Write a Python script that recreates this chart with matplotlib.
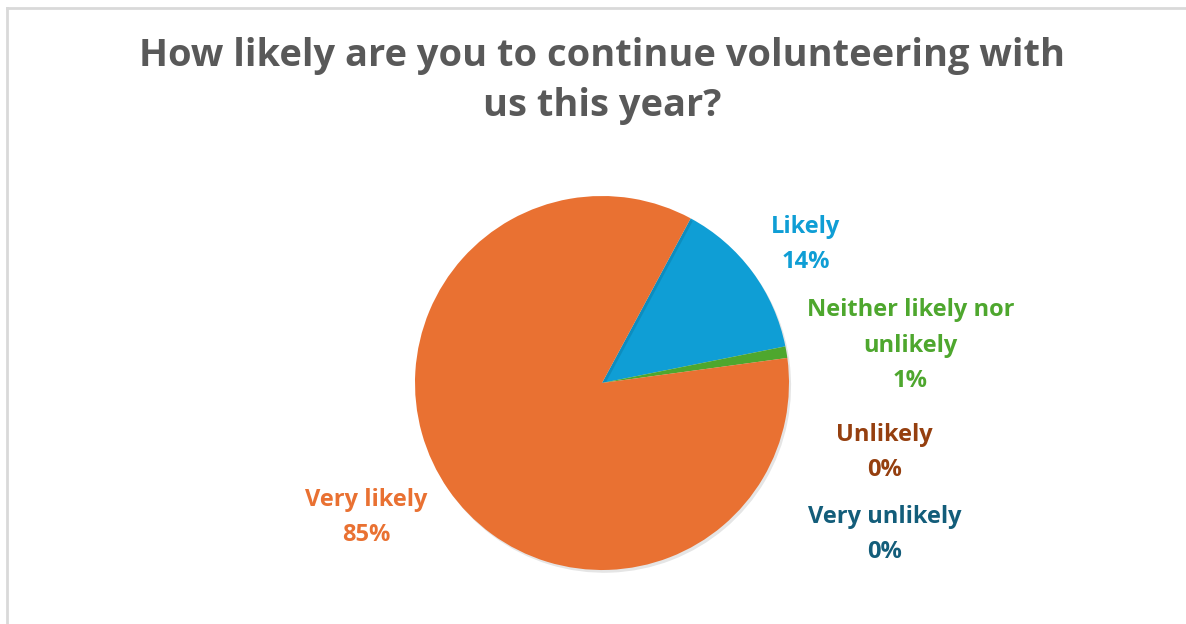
import matplotlib.pyplot as plt
from matplotlib.lines import Line2D
import matplotlib.patheffects as pe

# survey answers, clockwise from the Likely slice
labels = ["Likely", "Neither likely nor\nunlikely", "Unlikely", "Very unlikely", "Very likely"]
values = [14, 1, 0, 0, 85]
colors = ["#0F9ED5", "#4EA72E", "#A0400E", "#156082", "#E97132"]
text_colors = ["#0F9ED5", "#4EA72E", "#953F0F", "#135D7A", "#E97132"]
# where each label sits, in pie radius units
label_pos = [(1.09, 0.74), (1.65, 0.20), (1.51, -0.37), (1.51, -0.81), (-1.26, -0.72)]

W, H = 1186, 624
fig = plt.figure(figsize=(W / 100, H / 100), dpi=100)
fig.patch.set_facecolor("white")

# light gray chart-area frame
fig.add_artist(Line2D([7 / W, 7 / W], [0, 1 - 8 / H], color="#D9D9D9", lw=2))
fig.add_artist(Line2D([7 / W, 1], [1 - 8 / H, 1 - 8 / H], color="#D9D9D9", lw=2))

fig.text(602 / W, 1 - 81 / H, "How likely are you to continue volunteering with\nus this year?",
         ha="center", va="center", fontsize=27.4, fontweight="bold", color="#595959",
         family="Open Sans", linespacing=1.38)

cx, cy, r = 602, 383, 187
ax = fig.add_axes([(cx - r) / W, (H - cy - r) / H, 2 * r / W, 2 * r / H])
wedges, _ = ax.pie(values, colors=colors, startangle=90 - 28.3, counterclock=False,
                   radius=1, wedgeprops=dict(linewidth=0))
for w in wedges:
    w.set_path_effects([pe.SimplePatchShadow(offset=(1.5, -2), shadow_rgbFace="#000000", alpha=0.10),
                        pe.Normal()])
ax.set_xlim(-1, 1)
ax.set_ylim(-1, 1)
ax.set_aspect("equal")
ax.axis("off")

for lab, v, col, (x, y) in zip(labels, values, text_colors, label_pos):
    ax.text(x, y, f"{lab}\n{v}%", ha="center", va="center", fontsize=17, fontweight="bold",
            color=col, family="Open Sans", linespacing=1.62, clip_on=False)

fig.savefig("out.png", dpi=100, facecolor="white")
